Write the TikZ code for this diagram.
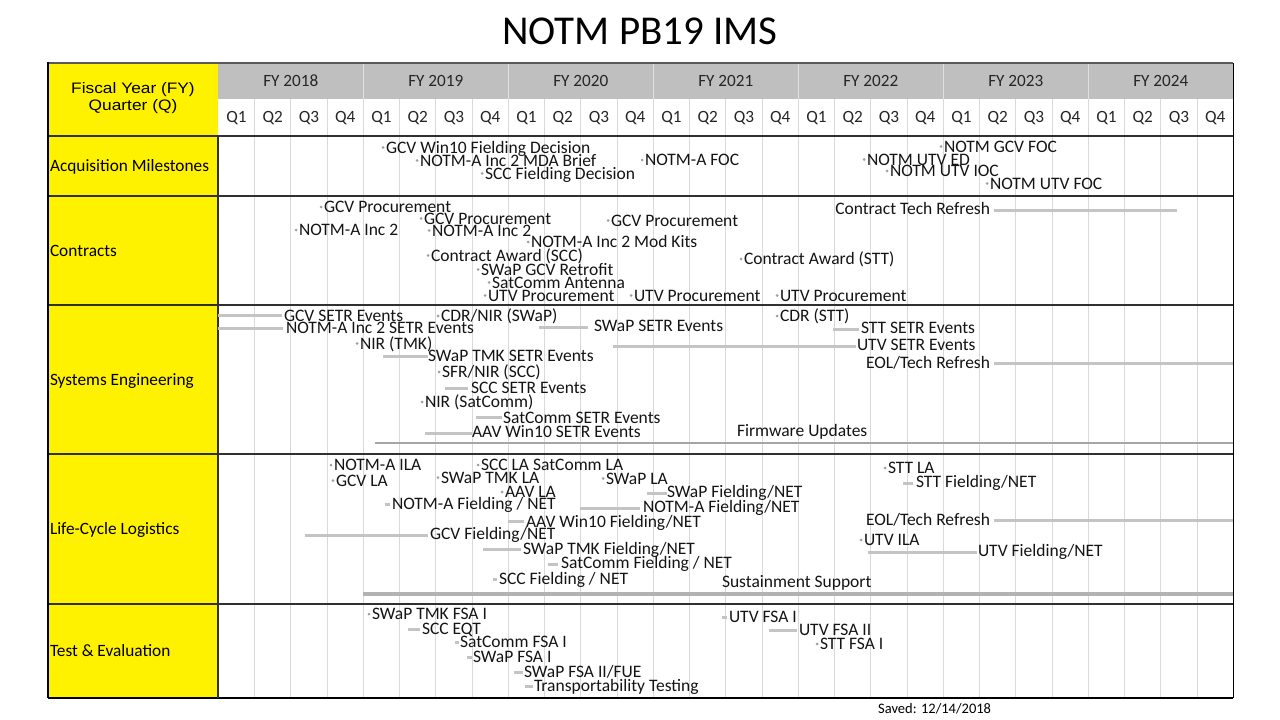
\documentclass[tikz,border=0pt]{standalone}
\usepackage{fontspec}
\setmainfont{Carlito}
\newfontfamily\arialf[FakeStretch=1.14]{Liberation Sans}
\definecolor{hdrgray}{HTML}{BFBFBF}
\definecolor{gridc}{HTML}{D9D9D9}
\definecolor{barc}{HTML}{C4C4C4}
\definecolor{dotcol}{HTML}{A0A0A0}
\definecolor{sepc}{HTML}{303030}
\newcommand{\MS}[4]{%
  \fill[dotc] (#2,#3) circle (1.5pt);
  \node[lbl] (#1) at (#2+3,#3+5.6) {#4};}
\newcommand{\BX}[7]{%
  \coordinate (#1a) at (#2,#4); \coordinate (#1b) at (#3,#4);
  \draw[barln] (#1a) -- (#1b);
  \node[lbl] (#1) at (#5,#6+5.6) {#7};}
\newcommand{\BXL}[7]{%
  \coordinate (#1a) at (#2,#4); \coordinate (#1b) at (#3,#4);
  \draw[barln] (#1a) -- (#1b);
  \node[lbl,anchor=base east] (#1) at (#5,#6+5.6) {#7};}
\begin{document}
\begin{tikzpicture}[x=1pt,y=-1pt,
  lbl/.style={inner sep=0pt,outer sep=0pt,font=\fontsize{17.5}{17.5}\selectfont,text=black!92,anchor=base west},
  hdr/.style={inner sep=0pt,outer sep=0pt,font=\fontsize{17.2}{17.2}\selectfont,text=black!85,anchor=base},
  rowlbl/.style={inner sep=0pt,outer sep=0pt,font=\fontsize{17.3}{17.3}\selectfont,text=black,anchor=base west},
  dotc/.style={fill=dotcol},
  barln/.style={draw=barc,line width=3pt},
  gridln/.style={draw=gridc,line width=1pt},
  rowsep/.style={draw=sepc,line width=2pt},
]
\useasboundingbox (0,0) rectangle (1280,720);
\fill[white] (0,0) rectangle (1280,720);
% title
\node[inner sep=0pt,font=\fontsize{41}{41}\selectfont] (title) at (640,31) {NOTM PB19 IMS};
% header and label column fills
\fill[hdrgray] (218,63) rectangle (1233,99);
\fill[yellow] (48,63) rectangle (218,698);
% quarter grid lines
\foreach \k in {1,...,27} {
  \draw[gridln] ({218.3+\k*36.25},99) -- ({218.3+\k*36.25},698);
}
\foreach \k in {4,8,...,24} {
  \draw[draw=black!12,line width=1.5pt] ({218.3+\k*36.25},63) -- ({218.3+\k*36.25},99);
}
% row separators and borders
\draw[draw=black!65,line width=2.5pt] (48,63) -- (1233,63);
\foreach \yy in {136,196,305,454,604} {
  \draw[rowsep] (48,\yy) -- (1233,\yy);
}
\draw[draw=black,line width=1.5pt] (48,698) -- (1233,698);
\draw[draw=black,line width=1.5pt] (48,62) -- (48,698);
\draw[draw=black,line width=1pt] (1233,63) -- (1233,698);
\draw[draw=sepc,line width=1.5pt] (218,136) -- (218,698);
% header texts
\foreach \yr [count=\i from 0] in {2018,...,2024} {
  \node[hdr] (fy\yr) at ({218.3+(\i*4+2)*36.25},86.5) {FY \yr};
}
\foreach \k in {0,...,27} {
  \pgfmathtruncatemacro\qn{mod(\k,4)+1}
  \node[hdr] (q\k) at ({218.3+(\k+0.5)*36.25},122.5) {Q\qn};
}
\node[inner sep=0pt,anchor=base,font=\arialf\fontsize{15.2}{15.2}\selectfont] (fyl1) at (133,93.3) {Fiscal Year (FY)};
\node[inner sep=0pt,anchor=base,font=\arialf\fontsize{15.2}{15.2}\selectfont] (fyl2) at (133,110) {Quarter (Q)};
% row labels
\node[rowlbl] (r1) at (50,171.5) {Acquisition Milestones};
\node[rowlbl] (r2) at (50,256) {Contracts};
\node[rowlbl] (r3) at (50,385) {Systems Engineering};
\node[rowlbl] (r4) at (50,534.5) {Life-Cycle Logistics};
\node[rowlbl] (r5) at (50,656.5) {Test \& Evaluation};
% Acquisition Milestones
\MS{a1}{383}{147.5}{GCV Win10 Fielding Decision}
\MS{a2}{417}{160.5}{NOTM-A Inc 2 MDA Brief}
\MS{a3}{482}{173.5}{SCC Fielding Decision}
\MS{a4}{642}{160}{NOTM-A FOC}
\MS{a5}{941}{146.5}{NOTM GCV FOC}
\MS{a6}{864}{159.5}{NOTM UTV ED}
\MS{a7}{887}{171}{NOTM UTV IOC}
\MS{a8}{987}{183.5}{NOTM UTV FOC}
% Contracts
\MS{c1}{321}{207}{GCV Procurement}
\MS{c2}{421}{218.5}{GCV Procurement}
\MS{c3}{296}{230}{NOTM-A Inc 2}
\MS{c4}{429}{230.5}{NOTM-A Inc 2}
\MS{c5}{608}{220.5}{GCV Procurement}
\MS{c6}{528}{242}{NOTM-A Inc 2 Mod Kits}
\MS{c7}{428}{255.5}{Contract Award (SCC)}
\MS{c8}{478}{269.5}{SWaP GCV Retrofit}
\MS{c9}{489}{282.5}{SatComm Antenna}
\MS{c10}{485}{295.5}{UTV Procurement}
\MS{c11}{631}{295.5}{UTV Procurement}
\MS{c12}{777}{295.5}{UTV Procurement}
\MS{c13}{741}{259}{Contract Award (STT)}
\BXL{c14}{994}{1177}{210}{990}{208.5}{Contract Tech Refresh}
% Systems Engineering
\BX{s1}{218}{282}{315.5}{284}{315.5}{GCV SETR Events}
\BX{s2}{218}{283}{328}{286}{328}{NOTM-A Inc 2 SETR Events}
\MS{s3}{438}{316}{CDR/NIR (SWaP)}
\BX{s4}{539}{588}{327}{594}{326}{SWaP SETR Events}
\MS{s5}{357}{343.5}{NIR (TMK)}
\BX{s6}{383}{428}{356}{428}{356}{SWaP TMK SETR Events}
\MS{s7}{439}{372}{SFR/NIR (SCC)}
\BX{s8}{445}{468}{388}{471}{388}{SCC SETR Events}
\MS{s9}{422}{402}{NIR (SatComm)}
\BX{s10}{476}{502}{417}{503}{418}{SatComm SETR Events}
\BX{s11}{425}{472}{433}{472}{432}{AAV Win10 SETR Events}
\coordinate (fwa) at (375,443); \coordinate (fwb) at (1233,443);
\draw[draw=black!35,line width=2pt] (fwa) -- (fwb);
\node[lbl] (s12) at (737,430.5+5.6) {Firmware Updates};
\MS{s13}{777}{316}{CDR (STT)}
\BX{s14}{833}{859}{329}{861}{328}{STT SETR Events}
\BX{s15}{613}{856}{346}{857}{345}{UTV SETR Events}
\BXL{s16}{994}{1233}{363}{990}{362.5}{EOL/Tech Refresh}
% Life-Cycle Logistics
\MS{l1}{331}{465}{NOTM-A ILA}
\MS{l2}{333}{480.5}{GCV LA}
\MS{l3}{478}{465}{SCC LA SatComm LA}
\MS{l4}{438}{477.5}{SWaP TMK LA}
\MS{l5}{502}{492}{AAV LA}
\BX{l6}{385}{390}{504}{392}{503.5}{NOTM-A Fielding / NET}
\BX{l7}{508}{524}{521}{526}{521.5}{AAV Win10 Fielding/NET}
\BX{l8}{305}{428}{535}{430}{534}{GCV Fielding/NET}
\BX{l9}{483}{521}{549}{523}{548.5}{SWaP TMK Fielding/NET}
\BX{l10}{548}{558}{564}{561}{563}{SatComm Fielding / NET}
\BX{l11}{493}{497}{579}{499}{579}{SCC Fielding / NET}
\MS{l13}{603}{478.5}{SWaP LA}
\BX{l14}{647}{667}{493}{667}{491.5}{SWaP Fielding/NET}
\BX{l15}{580}{640}{508}{643}{507}{NOTM-A Fielding/NET}
\coordinate (ssa) at (363,594); \coordinate (ssb) at (1233,594);
\draw[draw=black!30,line width=4pt] (ssa) -- (ssb);
\node[lbl] (l16) at (722,581.5+5.6) {Sustainment Support};
\MS{l17}{885}{468}{STT LA}
\BX{l18}{903}{913}{483}{916}{482}{STT Fielding/NET}
\BXL{l19}{994}{1233}{520}{990}{520}{EOL/Tech Refresh}
\MS{l20}{861}{540}{UTV ILA}
\BX{l21}{868}{977}{552}{978}{550.5}{UTV Fielding/NET}
% Test & Evaluation
\MS{t1}{369}{614}{SWaP TMK FSA I}
\BX{t2}{408}{420}{629}{422}{629}{SCC EQT}
\BX{t3}{455}{459}{642}{460}{642}{SatComm FSA I}
\BX{t4}{467}{472}{657}{473}{656.5}{SWaP FSA I}
\BX{t5}{514}{523}{672}{524}{671.5}{SWaP FSA II/FUE}
\BX{t6}{525}{533}{686}{534}{685.5}{Transportability Testing}
\BX{t7}{722}{727}{617}{729}{617}{UTV FSA I}
\BX{t8}{769}{797}{630}{799}{630}{UTV FSA II}
\MS{t9}{817}{644}{STT FSA I}
% footer
\node[inner sep=0pt,anchor=base west,font=\fontsize{14.5}{14.5}\selectfont] (saved) at (878,713) {Saved: 12/14/2018};
\end{tikzpicture}
\end{document}
